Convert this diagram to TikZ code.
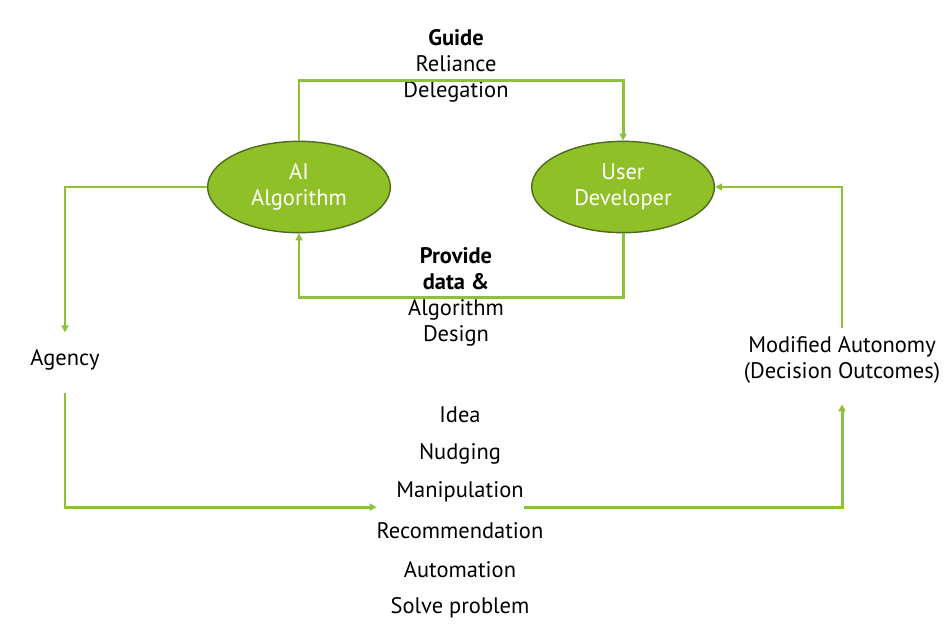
\documentclass[tikz,border=0pt]{standalone}
\usepackage{fontspec}
\setmainfont{PT Sans}
\definecolor{alggreen}{RGB}{143,192,40}
\definecolor{algborder}{RGB}{79,106,30}
\definecolor{flowgreen}{RGB}{141,193,60}
\usetikzlibrary{arrows.meta,positioning,shapes.geometric}

\begin{document}
\begin{tikzpicture}[x=0.02cm,y=-0.02cm,font=\fontsize{12.8}{14.7}\selectfont,
  actor/.style={draw=algborder,fill=alggreen,ellipse,line width=0.8pt,
    text=white,align=center,inner sep=0pt},
  flow/.style={-{Triangle[length=4pt,width=4pt]},draw=flowgreen,line width=1.7pt},
  thinflow/.style={-{Triangle[length=4pt,width=4pt]},draw=flowgreen,line width=1pt},
  caption/.style={align=center,inner sep=0pt}]
  \useasboundingbox (0,0) rectangle (952,643);
  \node[actor,minimum width=104pt,minimum height=52pt] (ai) at (299,187) {AI\\Algorithm};
  \node[actor,minimum width=104pt,minimum height=52pt] (user) at (623,187) {User\\Developer};
  \node[caption] (guide) at (456,66) {\textbf{Guide}\\Reliance\\Delegation};
  \node[caption] (provide) at (456,297) {\textbf{Provide}\\\textbf{data \&}\\Algorithm\\Design};
  \node[caption,minimum height=31pt] (agency) at (65,360) {Agency};
  \node[caption,minimum height=36pt] (modauto) at (842,360) {Modified Autonomy\\(Decision Outcomes)};
  % list of nudges
  \foreach \txt [count=\k] in {Idea,Nudging,Manipulation,Recommendation,Automation,Solve problem}
    \node[caption] (i\k) at (460,376.4+38.6*\k) {\txt};
  % connectors
  \draw[flow] (ai.north) -- ++(0,-60) -| (user.north);
  \draw[flow] (user.south) -- ++(0,64) -| (ai.south);
  \draw[thinflow] (ai.west) -| (agency.north);
  \draw[flow,shorten <=3pt,shorten >=11pt] (agency.south) |- ([yshift=-8.5pt]i3.west);
  \draw[flow,shorten >=7pt] ([yshift=-8.5pt]i3.east) -| (modauto.south);
  \draw[thinflow] (modauto.north) |- (user.east);
\end{tikzpicture}
\end{document}
